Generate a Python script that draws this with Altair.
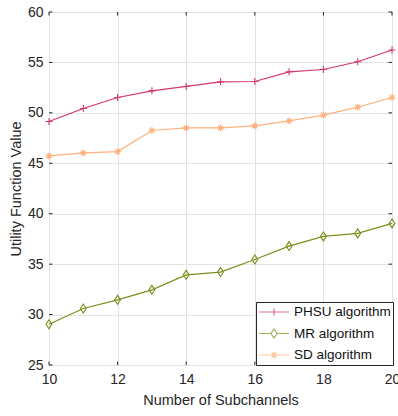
import altair as alt
import pandas as pd

subchannels = [10, 11, 12, 13, 14, 15, 16, 17, 18, 19, 20]
phsu = [49.14, 50.43, 51.52, 52.18, 52.62, 53.08, 53.11, 54.07, 54.30, 55.07, 56.23]
mr = [29.04, 30.60, 31.46, 32.45, 33.94, 34.21, 35.46, 36.79, 37.75, 38.05, 39.04]
sd = [45.73, 46.03, 46.16, 48.25, 48.51, 48.51, 48.71, 49.21, 49.77, 50.56, 51.52]
series = ["PHSU algorithm", "MR algorithm", "SD algorithm"]
colors = ["#d3366d", "#7a8f1c", "#ffb07c"]
x_ticks = [10, 12, 14, 16, 18, 20]
y_ticks = [25, 30, 35, 40, 45, 50, 55, 60]

rows = []
for name, vals in zip(series, [phsu, mr, sd]):
    for x, v in zip(subchannels, vals):
        rows.append({"x": x, "y": v, "series": name})
df = pd.DataFrame(rows)

W, H = 343, 353
FONT = "Liberation Sans"
AX = "#262626"

xs = alt.Scale(domain=[10, 20], nice=False)
ys = alt.Scale(domain=[25, 60], nice=False)
cs = alt.Scale(domain=series, range=colors)

marker_paths = {
    "PHSU algorithm": "M-1,0H1M0,-1V1",
    "MR algorithm": "M0,-1L0.65,0L0,1L-0.65,0Z",
    "SD algorithm": "M-1,0H1M0,-1V1M-0.7,-0.7L0.7,0.7M-0.7,0.7L0.7,-0.7",
}
marker_sizes = {"PHSU algorithm": 49, "MR algorithm": 81, "SD algorithm": 49}
legend_paths = [
    "M-1,0H1M0,-0.233V0.233M-0.233,0H0.233",
    "M-1,0H-0.2M0.2,0H1M0,-0.3L0.2,0L0,0.3L-0.2,0Z",
    "M-1,0H1M0,-0.233V0.233M-0.165,-0.165L0.165,0.165M-0.165,0.165L0.165,-0.165",
]

xenc = alt.X("x:Q", scale=xs, axis=alt.Axis(
    values=x_ticks, title="Number of Subchannels", grid=True, ticks=False, domain=False,
    labelPadding=7, titlePadding=7, labelFlush=False))
yenc = alt.Y("y:Q", scale=ys, axis=alt.Axis(
    values=y_ticks, title="Utility Function Value", grid=True, ticks=False, domain=False,
    labelPadding=6, titlePadding=4, labelFlush=False))

base = alt.Chart(df)
series_layers = []
for name, col in zip(series, colors):
    sub = base.transform_filter(alt.datum.series == name)
    series_layers.append(sub.mark_line(strokeWidth=1.2, color=col).encode(x=xenc, y=yenc))
    series_layers.append(
        sub.mark_point(shape=marker_paths[name], size=marker_sizes[name], filled=False,
                       strokeWidth=1.1, opacity=1, color=col)
        .encode(x="x:Q", y="y:Q")
    )

leg = alt.Legend(
    title=None, orient="none", legendX=207, legendY=290, symbolSize=900,
    clipHeight=16, rowPadding=5.5, padding=2, labelOffset=4, labelFont=FONT,
    labelFontSize=13.5, labelColor="#111111", strokeColor=AX, fillColor="white",
    symbolStrokeWidth=1.2, labelLimit=200)
legend_layer = base.transform_filter("false").mark_point(filled=False, size=900).encode(
    x="x:Q", y="y:Q",
    color=alt.Color("series:N", scale=cs, legend=leg),
    shape=alt.Shape("series:N", scale=alt.Scale(domain=series, range=legend_paths), legend=leg),
)

xt = pd.DataFrame({"t": x_ticks})
yt = pd.DataFrame({"t": y_ticks})
tick_layers = [
    alt.Chart(xt).mark_rule(color=AX, strokeWidth=1).encode(x="t:Q", y=alt.value(H), y2=alt.value(H - 3.5)),
    alt.Chart(xt).mark_rule(color=AX, strokeWidth=1).encode(x="t:Q", y=alt.value(0), y2=alt.value(3.5)),
    alt.Chart(yt).mark_rule(color=AX, strokeWidth=1).encode(y="t:Q", x=alt.value(0), x2=alt.value(3.5)),
    alt.Chart(yt).mark_rule(color=AX, strokeWidth=1).encode(y="t:Q", x=alt.value(W), x2=alt.value(W - 3.5)),
]

chart = alt.layer(*series_layers, *tick_layers, legend_layer).properties(
    width=W, height=H,
    autosize=alt.AutoSizeParams(type="none"),
    padding={"left": 49, "top": 12, "right": 6, "bottom": 51},
    background="white",
).configure_view(stroke=AX, strokeWidth=1).configure_axis(
    labelFont=FONT, labelFontSize=14, labelColor=AX, titleFont=FONT, titleFontSize=14.5,
    titleColor=AX, titleFontWeight="normal", gridColor="#e3e3e3", gridWidth=1,
)

chart.save("out.html", embed_options={"renderer": "svg", "actions": False})
